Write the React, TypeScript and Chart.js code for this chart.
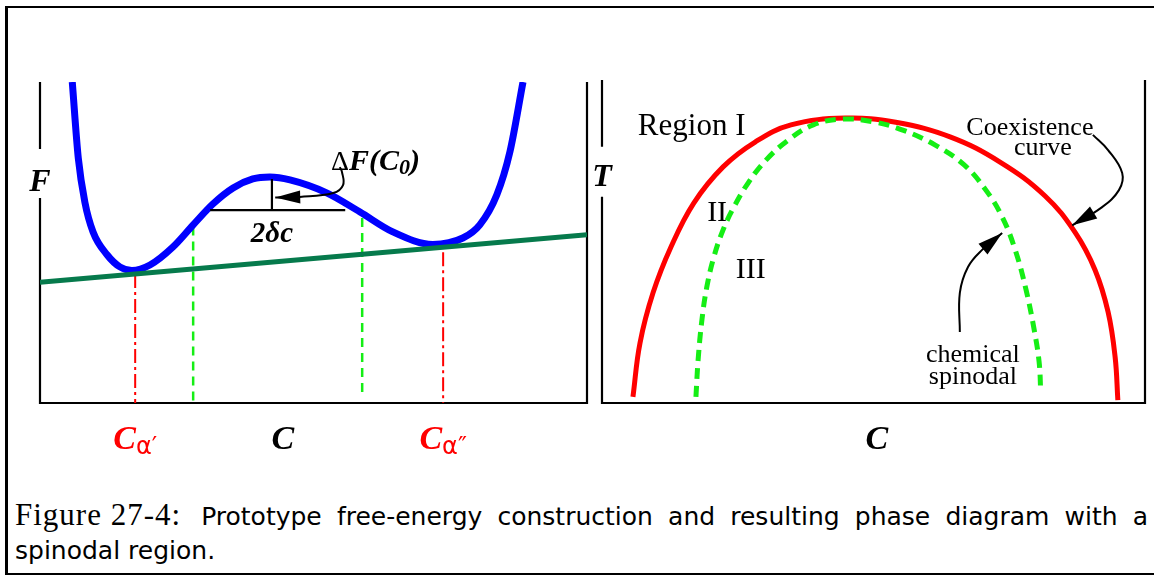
import React, { useEffect, useLayoutEffect, useRef } from "react";
import { Chart, registerables } from "chart.js";

Chart.register(...registerables);

// ---------------- Left panel: free energy F versus composition C ----------------
const freeEnergyC = [5.9, 7.0, 8.2, 9.7, 12.3, 14.6, 16.8, 20.1, 24.3, 28.0, 31.6, 35.3, 38.9, 42.0, 45.7, 52.5, 58.5, 64.5, 71.8, 77.3, 80.4, 83.5, 85.9, 88.3];
const freeEnergyF = [100, 76.3, 62.6, 53.3, 46.1, 42.4, 41.3, 43.0, 48.6, 55.5, 62.0, 67.0, 69.8, 70.4, 69.5, 65.4, 59.5, 53.3, 49.4, 51.4, 55.5, 64.8, 78.2, 100];
const tangentC = [0, 100];
const tangentF = [37.6, 52.4];
const coexistMarkC = [17.4, 73.7];
const coexistMarkTopF = [40.2, 47.0];
const spinodalMarkC = [28.0, 58.9];
const spinodalMarkTopF = [55.0, 57.6];
const spinodalMarkBottomF = [0, 2.5];
const chordC = [31.1, 55.8];
const chordF = [60.1, 60.1];
const dropC = [42.4, 42.4];
const dropF = [69.8, 60.1];
const deltaArrowC = [54.8, 55.2, 55.4, 53.6, 47.5, 43.0];
const deltaArrowF = [73.5, 72.0, 67.9, 65.4, 64.2, 64.0];

// ---------------- Right panel: phase diagram T versus C ----------------
const coexCurveC = [5.7, 7.0, 9.4, 12.7, 16.9, 22.3, 28.2, 34.8, 44.8, 54.1, 64.1, 73.3, 81.6, 87.1, 90.8, 93.2, 94.5, 95.0];
const coexCurveT = [1.9, 18.6, 34.1, 48.3, 61.9, 73.1, 80.8, 86.1, 88.2, 86.9, 82.4, 74.6, 64.1, 52.9, 41.2, 28.2, 14.2, 0.9];
const spinCurveC = [17.3, 17.7, 18.4, 19.3, 20.6, 22.3, 24.3, 26.9, 30.2, 34.3, 38.9, 44.2, 50.1, 55.4, 61.3, 66.7, 70.7, 73.7, 76.1, 78.1, 79.6, 80.5, 80.8];
const spinCurveT = [1.9, 13.3, 25.7, 35.9, 45.2, 53.6, 60.7, 68.1, 75.2, 81.4, 86.1, 87.9, 87.0, 84.5, 79.9, 73.7, 65.9, 57.6, 47.4, 35.0, 22.6, 12.7, 3.4];
const coexArrowC = [90.4, 93.2, 95.8, 95.2, 91.9, 86.6];
const coexArrowT = [83.0, 78.3, 71.2, 65.9, 60.4, 55.0];
const spinArrowC = [65.9, 65.9, 67.4, 70.0, 73.7];
const spinArrowT = [22.0, 34.1, 42.1, 47.4, 52.6];

// ---------------- Caption ----------------
const captionLabel = "Figure 27-4:";
const captionLine1 = "Prototype free-energy construction and resulting phase diagram with a";
const captionLine2 = "spinodal region.";

const SERIF = '"Liberation Serif", "Times New Roman", serif';
const SANS = '"DejaVu Sans", sans-serif';
const BI = (px: number) => `italic bold ${px}px ${SERIF}`;
const RG = (px: number) => `${px}px ${SERIF}`;

const RED = "#ff0000";
const BLUE = "#0000ff";
const DARKGREEN = "#067a4c";
const LIME = "#15ee15";

type Part = { t: string; font: string; color?: string; dy?: number };
type Label = { x: number; y: number; parts: Part[]; align?: "left" | "center" };
type Arrow = { xs: number[]; ys: number[]; len: number; half: number };

const pts = (xs: number[], ys: number[]) => xs.map((x, i) => ({ x, y: ys[i] }));

function drawRich(ctx: CanvasRenderingContext2D, x: number, y: number, parts: Part[], align: "left" | "center") {
  let total = 0;
  const widths = parts.map((p) => {
    ctx.font = p.font;
    const w = ctx.measureText(p.t).width;
    total += w;
    return w;
  });
  let cx = align === "center" ? x - total / 2 : x;
  ctx.textBaseline = "middle";
  ctx.textAlign = "left";
  parts.forEach((p, i) => {
    ctx.font = p.font;
    ctx.fillStyle = p.color || "#000";
    ctx.fillText(p.t, cx, y + (p.dy || 0));
    cx += widths[i];
  });
}

function panelPlugin(id: string, gapValue: number, gapHalf: number, labels: Label[], arrows: Arrow[]) {
  return {
    id,
    beforeDatasetsDraw(chart: any) {
      const { ctx, chartArea: a, scales } = chart;
      const gy = scales.y.getPixelForValue(gapValue);
      ctx.save();
      ctx.strokeStyle = "#000";
      ctx.lineWidth = 2.2;
      ctx.beginPath();
      ctx.moveTo(a.left, a.top);
      ctx.lineTo(a.left, gy - gapHalf);
      ctx.moveTo(a.left, gy + gapHalf);
      ctx.lineTo(a.left, a.bottom);
      ctx.lineTo(a.right, a.bottom);
      ctx.lineTo(a.right, a.top);
      ctx.stroke();
      ctx.restore();
    },
    afterDatasetsDraw(chart: any) {
      const { ctx, scales } = chart;
      const sx = scales.x;
      const sy = scales.y;
      ctx.save();
      arrows.forEach((ar) => {
        const n = ar.xs.length;
        const tx = sx.getPixelForValue(ar.xs[n - 1]);
        const ty = sy.getPixelForValue(ar.ys[n - 1]);
        const px = sx.getPixelForValue(ar.xs[n - 2]);
        const py = sy.getPixelForValue(ar.ys[n - 2]);
        const dx = tx - px;
        const dy = ty - py;
        const d = Math.hypot(dx, dy) || 1;
        const ux = dx / d;
        const uy = dy / d;
        const bx = tx - ux * ar.len;
        const by = ty - uy * ar.len;
        ctx.fillStyle = "#000";
        ctx.beginPath();
        ctx.moveTo(tx, ty);
        ctx.lineTo(bx - uy * ar.half, by + ux * ar.half);
        ctx.lineTo(bx + uy * ar.half, by - ux * ar.half);
        ctx.closePath();
        ctx.fill();
      });
      labels.forEach((l) => {
        drawRich(ctx, sx.getPixelForValue(l.x), sy.getPixelForValue(l.y), l.parts, l.align || "center");
      });
      ctx.restore();
    },
  };
}

const baseOptions = (padding: any) => ({
  responsive: false,
  animation: false as const,
  events: [] as any[],
  layout: { padding },
  plugins: { legend: { display: false }, tooltip: { enabled: false }, title: { display: false } },
  elements: { point: { radius: 0 } },
  scales: {
    x: { type: "linear" as const, min: 0, max: 100, display: false },
    y: { type: "linear" as const, min: 0, max: 100, display: false },
  },
});

const leftLabels: Label[] = [
  { x: 0, y: 68.5, parts: [{ t: "F", font: BI(32) }] },
  { x: 44.4, y: -11.5, parts: [{ t: "C", font: BI(34) }] },
  { x: coexistMarkC[0], y: -11.5, parts: [{ t: "C", font: BI(34), color: RED }, { t: "α′", font: `24px ${SANS}`, color: RED, dy: 8 }] },
  { x: coexistMarkC[1], y: -11.5, parts: [{ t: "C", font: BI(34), color: RED }, { t: "α″", font: `24px ${SANS}`, color: RED, dy: 8 }] },
  {
    x: 53.2,
    y: 75.0,
    align: "left",
    parts: [
      { t: "Δ", font: RG(28) },
      { t: "F(C", font: BI(30) },
      { t: "0", font: BI(22), dy: 6 },
      { t: ")", font: BI(30) },
    ],
  },
  { x: 42.4, y: 52.6, parts: [{ t: "2δc", font: BI(29) }] },
];

const rightLabels: Label[] = [
  { x: 0, y: 69.7, parts: [{ t: "T", font: BI(32) }] },
  { x: 50.6, y: -11.5, parts: [{ t: "C", font: BI(34) }] },
  { x: 6.6, y: 85.5, align: "left", parts: [{ t: "Region I", font: RG(31) }] },
  { x: 21.2, y: 58.8, parts: [{ t: "II", font: RG(30) }] },
  { x: 27.4, y: 41.2, parts: [{ t: "III", font: RG(30) }] },
  { x: 78.8, y: 85.1, parts: [{ t: "Coexistence", font: RG(26) }] },
  { x: 81.2, y: 78.9, parts: [{ t: "curve", font: RG(26) }] },
  { x: 68.3, y: 14.9, parts: [{ t: "chemical", font: RG(26) }] },
  { x: 68.3, y: 8.0, parts: [{ t: "spinodal", font: RG(26) }] },
];

export default function App() {
  const leftRef = useRef<HTMLCanvasElement>(null);
  const rightRef = useRef<HTMLCanvasElement>(null);
  const bodyRef = useRef<HTMLSpanElement>(null);

  useLayoutEffect(() => {
    const el = bodyRef.current;
    if (!el) return;
    const r = el.getBoundingClientRect();
    const targetRight = 1148;
    const spaces = (captionLine1.match(/ /g) || []).length;
    const extra = targetRight - r.right;
    if (extra > 0) {
      el.style.wordSpacing = `${extra / spaces}px`;
    }
  }, []);

  useEffect(() => {
    const left = new Chart(leftRef.current!, {
      type: "line",
      data: {
        datasets: [
          { data: pts(deltaArrowC, deltaArrowF), borderColor: "#000", borderWidth: 2, tension: 0.4, fill: false },
          { data: pts(chordC, chordF), borderColor: "#000", borderWidth: 2.2 },
          { data: pts(dropC, dropF), borderColor: "#000", borderWidth: 2.2 },
          { data: pts(tangentC, tangentF), borderColor: DARKGREEN, borderWidth: 5 },
          { data: pts(freeEnergyC, freeEnergyF), borderColor: BLUE, borderWidth: 7, cubicInterpolationMode: "monotone" },
          { data: pts([coexistMarkC[0], coexistMarkC[0]], [coexistMarkTopF[0], 0]), borderColor: RED, borderWidth: 2, borderDash: [14, 4, 3, 4] },
          { data: pts([coexistMarkC[1], coexistMarkC[1]], [coexistMarkTopF[1], 0]), borderColor: RED, borderWidth: 2, borderDash: [14, 4, 3, 4] },
          { data: pts([spinodalMarkC[0], spinodalMarkC[0]], [spinodalMarkTopF[0], spinodalMarkBottomF[0]]), borderColor: LIME, borderWidth: 2.5, borderDash: [9, 6] },
          { data: pts([spinodalMarkC[1], spinodalMarkC[1]], [spinodalMarkTopF[1], spinodalMarkBottomF[1]]), borderColor: LIME, borderWidth: 2.5, borderDash: [9, 6] },
        ],
      },
      options: baseOptions({ left: 40, right: 13, top: 82, bottom: 67 }) as any,
      plugins: [panelPlugin("leftPanel", 71.5, 24.5, leftLabels, [{ xs: deltaArrowC, ys: deltaArrowF, len: 25, half: 6.5 }])],
    });

    const right = new Chart(rightRef.current!, {
      type: "line",
      data: {
        datasets: [
          { data: pts(coexArrowC, coexArrowT), borderColor: "#000", borderWidth: 2, tension: 0.4 },
          { data: pts(spinArrowC, spinArrowT), borderColor: "#000", borderWidth: 2, tension: 0.4 },
          { data: pts(spinCurveC, spinCurveT), borderColor: LIME, borderWidth: 5, borderDash: [11, 7], tension: 0.4 },
          { data: pts(coexCurveC, coexCurveT), borderColor: RED, borderWidth: 5, tension: 0.4 },
        ],
      },
      options: baseOptions({ left: 12, right: 9, top: 80, bottom: 67 }) as any,
      plugins: [
        panelPlugin("rightPanel", 71.6, 25, rightLabels, [
          { xs: coexArrowC, ys: coexArrowT, len: 25, half: 7 },
          { xs: spinArrowC, ys: spinArrowT, len: 25, half: 7 },
        ]),
      ],
    });

    return () => {
      left.destroy();
      right.destroy();
    };
  }, []);

  return (
    <div style={{ position: "absolute", left: 0, top: 0, width: 1154, height: 576, overflow: "hidden", background: "#fff" }}>
      <div
        style={{
          position: "absolute",
          left: 5,
          top: 6,
          width: 1300,
          height: 569,
          boxSizing: "border-box",
          borderTop: "2px solid #000",
          borderLeft: "3px solid #000",
          borderBottom: "2px solid #000",
        }}
      />
      <canvas ref={leftRef} width={600} height={470} style={{ position: "absolute", left: 0, top: 0 }} />
      <canvas ref={rightRef} width={564} height={470} style={{ position: "absolute", left: 590, top: 0 }} />
      <div
        style={{
          position: "absolute",
          left: 15,
          top: 498,
          whiteSpace: "nowrap",
          fontFamily: SANS,
          fontSize: 25,
          lineHeight: "34px",
        }}
      >
        <span style={{ fontFamily: SERIF, fontSize: 31, letterSpacing: 1, marginRight: 20 }}>{captionLabel}</span>
        <span ref={bodyRef}>{captionLine1}</span>
      </div>
      <div
        style={{
          position: "absolute",
          left: 15,
          top: 534,
          whiteSpace: "nowrap",
          fontFamily: SANS,
          fontSize: 25,
          lineHeight: "34px",
        }}
      >
        {captionLine2}
      </div>
    </div>
  );
}
